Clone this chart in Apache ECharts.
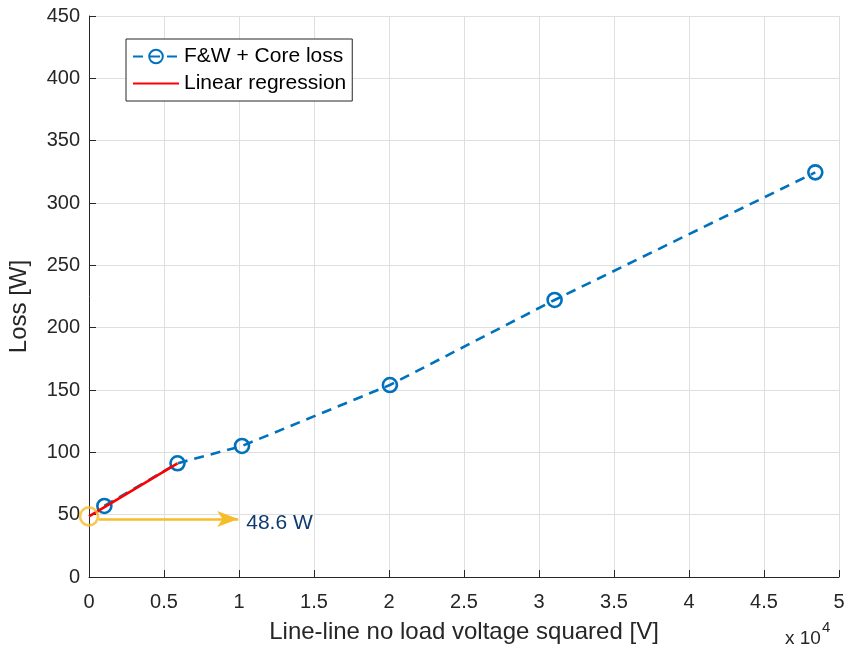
<!DOCTYPE html>
<html>
<head>
<meta charset="utf-8">
<script src="https://cdn.jsdelivr.net/npm/echarts@6/dist/echarts.min.js"></script>
<style>
  html, body { margin: 0; padding: 0; background: #fff; }
  #chart { width: 844px; height: 645px; }
</style>
</head>
<body>
<div id="chart"></div>
<script>
// Measured no-load points: line-line voltage squared [V^2] and loss [W]
const voltageSquared = [1024, 5900, 10200, 20060, 31040, 48420];
const lossValues     = [57.0, 91.2, 105.1, 154.0, 222.2, 324.6];

// Linear regression extrapolated to zero voltage
const regressionX = [0, 5900];
const regressionY = [48.6, 91.2];
const intercept = 48.6;
const arrowStartX = 650;
const arrowEndX = 9950;
const arrowY = 46.5;

const xTickStep = 5000;
const xMax = 50000;
const yTickStep = 50;
const yMax = 450;

const FONT = "Arial, 'Liberation Sans', Helvetica, sans-serif";
const INK = '#262626';
const BLUE = '#0072BD';
const RED = '#FF0000';
const YELLOW = '#F6BC2A';

const pairs = (xs, ys) => xs.map((x, i) => [x, ys[i]]);

const chart = echarts.init(document.getElementById('chart'), null, { renderer: 'canvas' });

chart.setOption({
  backgroundColor: '#ffffff',
  animation: false,
  textStyle: { fontFamily: FONT },
  grid: { left: 89, right: 5, top: 16, bottom: 68, containLabel: false, outerBoundsMode: 'none' },
  legend: {
    left: 126, top: 39,
    orient: 'vertical',
    backgroundColor: '#ffffff',
    borderColor: INK, borderWidth: 1, borderRadius: 0,
    padding: [7, 6, 7, 6],
    itemGap: 6,
    itemWidth: 46, itemHeight: 17,
    textStyle: { fontSize: 21, color: '#000', fontFamily: FONT },
    data: [
      { name: 'F&W + Core loss' },
      { name: 'Linear regression', itemStyle: { opacity: 0 } }
    ]
  },
  xAxis: {
    type: 'value', min: 0, max: xMax, interval: xTickStep,
    name: 'Line-line no load voltage squared [V]',
    nameLocation: 'middle', nameGap: 43,
    nameTextStyle: { fontSize: 24, color: INK, fontFamily: FONT },
    axisLine: { show: true, onZero: false, lineStyle: { color: INK, width: 1 } },
    axisTick: { show: true, inside: true, length: 7, lineStyle: { color: INK } },
    axisLabel: { fontSize: 20, color: INK, margin: 15, fontFamily: FONT,
      formatter: v => String(v / 1e4) },
    splitLine: { show: true, lineStyle: { color: '#dfdfdf', width: 1 } }
  },
  yAxis: {
    type: 'value', min: 0, max: yMax, interval: yTickStep,
    name: 'Loss [W]',
    nameLocation: 'middle', nameGap: 58,
    nameTextStyle: { fontSize: 24, color: INK, fontFamily: FONT, padding: [0, 20, 0, 0] },
    axisLine: { show: true, onZero: false, lineStyle: { color: INK, width: 1 } },
    axisTick: { show: true, inside: true, length: 7, lineStyle: { color: INK } },
    axisLabel: { fontSize: 20, color: INK, margin: 9, fontFamily: FONT },
    splitLine: { show: true, lineStyle: { color: '#dfdfdf', width: 1 } }
  },
  series: [
    {
      name: 'F&W + Core loss',
      type: 'line',
      data: pairs(voltageSquared, lossValues),
      symbol: 'circle', symbolSize: 14,
      lineStyle: { color: BLUE, width: 2.6, type: [10, 7] },
      itemStyle: { color: 'rgba(255,255,255,0)', borderColor: BLUE, borderWidth: 2.6 },
      z: 2
    },
    {
      name: 'Linear regression',
      type: 'line',
      data: pairs(regressionX, regressionY),
      symbol: 'none',
      lineStyle: { color: RED, width: 2.6 },
      itemStyle: { color: RED },
      z: 3
    },
    {
      name: 'intercept',
      type: 'scatter',
      data: [[0, intercept]],
      symbol: 'circle', symbolSize: 18,
      itemStyle: { color: 'rgba(255,255,255,0)', borderColor: YELLOW, borderWidth: 2.6 },
      clip: false,
      z: 4,
      markLine: {
        silent: true,
        symbol: ['none', 'arrow'],
        symbolSize: [12, 21],
        lineStyle: { color: YELLOW, width: 2.6, type: 'solid' },
        label: {
          show: true, position: 'end', distance: 8, offset: [0, 4],
          formatter: intercept.toFixed(1) + ' W',
          fontSize: 21, color: '#0E3A6E', fontFamily: FONT
        },
        data: [[{ coord: [arrowStartX, arrowY] }, { coord: [arrowEndX, arrowY] }]]
      }
    }
  ],
  graphic: [
    {
      type: 'text', left: 785, top: 620,
      style: {
        text: '{b|x 10}{s|4}',
        rich: {
          b: { fontSize: 19, fill: INK, fontFamily: FONT, verticalAlign: 'bottom', lineHeight: 28 },
          s: { fontSize: 15, fill: INK, fontFamily: FONT, verticalAlign: 'top', lineHeight: 28, padding: [0, 0, 12, 1] }
        }
      }
    }
  ]
});
</script>
</body>
</html>
